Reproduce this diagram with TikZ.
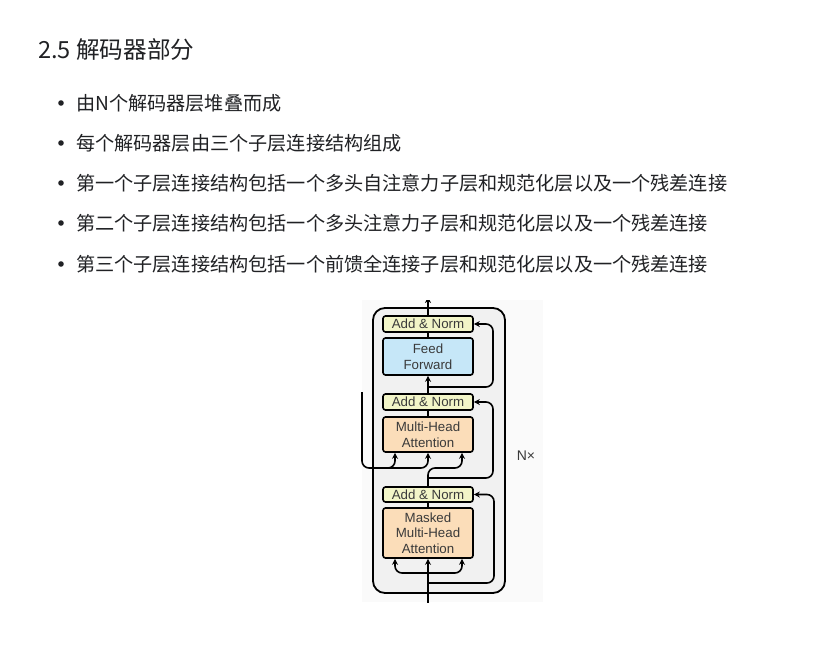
\documentclass[tikz,border=0pt]{standalone}
\usepackage{fontspec}
\setmainfont{Liberation Sans}
\newfontfamily\cjk{Noto Sans CJK SC}
\usetikzlibrary{arrows.meta}

\definecolor{normfill}{HTML}{F2F5C8}
\definecolor{fffill}{HTML}{C6E7F8}
\definecolor{attfill}{HTML}{FBDDB9}
\definecolor{layerfill}{HTML}{F1F1F1}
\definecolor{figbg}{HTML}{FAFAFA}
\definecolor{txt}{HTML}{202124}
\definecolor{boxtxt}{HTML}{3A3A3A}

\tikzset{
  sub/.style={draw, line width=1.6pt, rounded corners=2.5pt, minimum width=90pt,
    inner sep=0pt, align=center, text=boxtxt,
    font=\fontsize{13.3}{15.5}\selectfont},
  norm/.style={sub, fill=normfill, minimum height=16pt},
  ffwd/.style={sub, fill=fffill, minimum height=37pt},
  att/.style={sub, fill=attfill},
  wire/.style={line width=1.6pt, rounded corners=7pt},
  arr/.style={wire, -{Stealth[length=6pt,width=6pt]}},
  heading/.style={anchor=west, inner sep=0pt, text=txt, font=\cjk\fontsize{23.6}{26}\selectfont},
  item/.style={anchor=west, inner sep=0pt, text=txt, font=\cjk\fontsize{19.15}{22}\selectfont},
}

\begin{document}
\begin{tikzpicture}[x=1pt,y=-1pt]
  \useasboundingbox (0,0) rectangle (827,667);
  \fill[white] (0,0) rectangle (827,667);

  % text
  \node[heading] (title) at (38,50) {2.5 解码器部分};
  \foreach \y/\t in {103/由N个解码器层堆叠而成,
                     143/每个解码器层由三个子层连接结构组成,
                     183/第一个子层连接结构包括一个多头自注意力子层和规范化层以及一个残差连接,
                     223/第二个子层连接结构包括一个多头注意力子层和规范化层以及一个残差连接,
                     264/第三个子层连接结构包括一个前馈全连接子层和规范化层以及一个残差连接} {
    \fill[txt] (61,\y) circle (2.8pt);
    \node[item] at (76,\y) {\t};
  }

  % decoder layer
  \fill[figbg] (362,300) rectangle (543,602);
  \begin{scope}
    \clip (361,300) rectangle (543,602);
    \draw[line width=1.8pt, fill=layerfill, rounded corners=12pt] (373,308) rectangle (505,593);

    \node[norm] (an1) at (428,324) {Add \& Norm};
    \node[ffwd] (ff) at (428,356.5) {Feed\\Forward};
    \node[norm] (an2) at (428,402) {Add \& Norm};
    \node[att, minimum height=35pt] (mha) at (428,434.5) {Multi-Head\\Attention};
    \node[norm, minimum height=15pt] (an3) at (428,494.5) {Add \& Norm};
    \node[att, minimum height=50pt] (mmha) at (428,533) {Masked\\Multi-Head\\Attention};
    \node[text=boxtxt, font=\fontsize{14}{16}\selectfont] (nx) at (526,456) {N×};

    \coordinate (out) at (428,297);
    \coordinate (enc) at (362,392);
    \coordinate (in) at (428,604);

    % main path
    \draw[arr] (an1.north) -- (out);
    \draw[wire] (ff.north) -- (an1.south);
    \draw[arr] (an2.north) -- (ff.south);
    \draw[wire] (mha.north) -- (an2.south);
    \draw[wire] (mmha.north) -- (an3.south);
    \draw[arr] (in) -- (mmha.south);

    % residuals
    \draw[arr] (428,387) -- (493,387) -- (493,324) -- (an1.east);
    \draw[arr] (428,478) -- (493,478) -- (493,402) -- (an2.east);
    \draw[arr] (428,583) -- (494,583) -- (494,494.5) -- (an3.east);

    % attention inputs
    \draw[arr] (enc) -- (362,468) -- (395,468) -- ([xshift=-33pt]mha.south);
    \draw[arr] (388,468) -- (428,468) -- (mha.south);
    \draw[arr] (an3.north) -- (428,468) -- (462,468) -- ([xshift=34pt]mha.south);
    \draw[arr] (428,573) -- (395,573) -- ([xshift=-33pt]mmha.south);
    \draw[arr] (428,573) -- (462,573) -- ([xshift=34pt]mmha.south);
  \end{scope}
\end{tikzpicture}
\end{document}
